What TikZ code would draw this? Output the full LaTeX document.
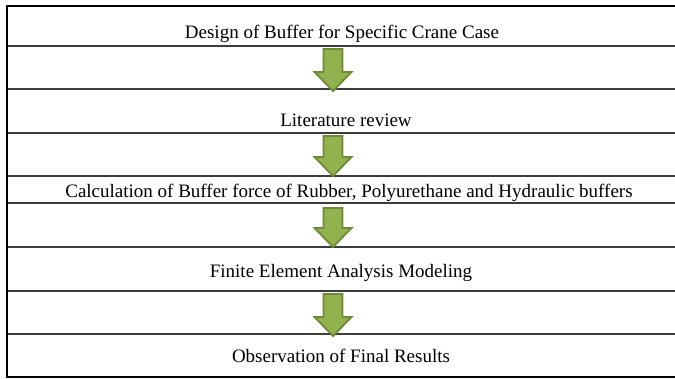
\documentclass[tikz,border=0pt]{standalone}
\usepackage{fontspec}
\setmainfont{Liberation Serif}
\begin{document}
\begin{tikzpicture}[x=1pt,y=-1pt,
  rule/.style={draw={rgb,255:red,60;green,60;blue,60},line width=1.5pt},
  frame/.style={draw=black,line width=2.4pt},
  lbl/.style={anchor=base,inner sep=0pt,font=\fontsize{19}{21}\selectfont},
  blockarrow/.style={fill={rgb,255:red,145;green,178;blue,78},draw={rgb,255:red,110;green,138;blue,55},line width=1.8pt,line join=miter}]
\useasboundingbox (0,0) rectangle (675,378);
% horizontal rules
\foreach \yy in {46,89,133,176,203,247,291,334}{
  \draw[rule] (7,\yy) -- (675,\yy);
}
\draw[frame] (6,6) -- (675,6);
\draw[frame] (6,377) -- (675,377);
\draw[frame] (7,5) -- (7,378);
% labels
\node[lbl] (t1) at (342,38) {Design of Buffer for Specific Crane Case};
\node[lbl] (t2) at (346,126) {Literature review};
\node[lbl] (t3) at (349,197) {Calculation of Buffer force of Rubber, Polyurethane and Hydraulic buffers};
\node[lbl] (t4) at (341,277) {Finite Element Analysis Modeling};
\node[lbl] (t5) at (341,362) {Observation of Final Results};
% block arrows
\foreach \top/\tip in {49/91,136/176,208/247,294/336}{
  \pgfmathsetmacro{\hb}{\tip-19}
  \draw[blockarrow] (323.5,\top) -- (342.5,\top) -- (342.5,\hb) -- (351.5,\hb) -- (333,\tip) -- (314.5,\hb) -- (323.5,\hb) -- cycle;
}
\end{tikzpicture}
\end{document}
